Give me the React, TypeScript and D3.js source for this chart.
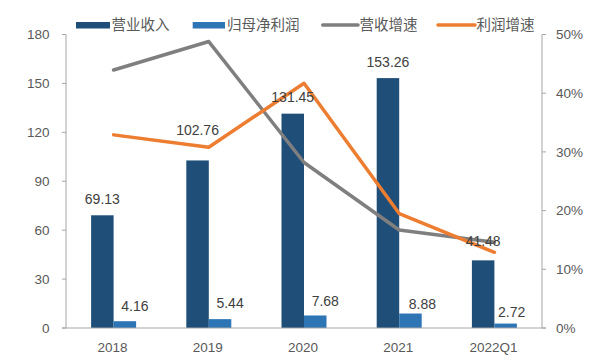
import React from "react";
import * as d3 from "d3";

const categories = ["2018", "2019", "2020", "2021", "2022Q1"];
const revenue = [69.13, 102.76, 131.45, 153.26, 41.48];
const netProfit = [4.16, 5.44, 7.68, 8.88, 2.72];
const revenueGrowth = [0.4395, 0.488, 0.282, 0.167, 0.146];
const profitGrowth = [0.329, 0.308, 0.417, 0.195, 0.129];
const leftTicks = [0, 30, 60, 90, 120, 150, 180];
const rightTicks = [0, 0.1, 0.2, 0.3, 0.4, 0.5];
const legendNames = ["营业收入", "归母净利润", "营收增速", "利润增速"];

// label nudges (px)
const revLabelGap = [16, 30, 17, 16, 19];
const profitLabelDx = [10, 10, 10, 12, 6];
const profitLabelGap = [15, 16, 14.5, 9, 11];

const C_DARK = "#1F4E79";
const C_LIGHT = "#2E75B6";
const C_GRAY = "#7F7F7F";
const C_ORANGE = "#ED7D31";
const C_AXIS = "#A6A6A6";
const C_TEXT = "#595959";
const C_LABEL = "#404040";

export default function App() {
  const W = 601, H = 360;
  const left = 66, right = 542, top = 34.5, bottom = 328;
  const x = d3.scaleBand<string>().domain(categories).range([left, right]).paddingInner(0).paddingOuter(0);
  const yL = d3.scaleLinear().domain([0, 180]).range([bottom, top]);
  const yR = d3.scaleLinear().domain([0, 0.5]).range([bottom, top]);
  const bw = 22.5;
  const cx = (c: string) => (x(c) as number) + x.bandwidth() / 2;

  const line = d3
    .line<number>()
    .x((_, i) => cx(categories[i]))
    .y((d) => yR(d));

  const numFont = "'Liberation Sans', Arial, sans-serif";
  const cjkFont = "'Noto Sans CJK SC', 'Noto Sans', sans-serif";

  const legendItems = [
    { name: legendNames[0], kind: "rect", color: C_DARK, x0: 76, x1: 110, tx: 111.5 },
    { name: legendNames[1], kind: "rect", color: C_LIGHT, x0: 192.7, x1: 225, tx: 227 },
    { name: legendNames[2], kind: "line", color: C_GRAY, x0: 322.7, x1: 358, tx: 359.5 },
    { name: legendNames[3], kind: "line", color: C_ORANGE, x0: 438, x1: 475, tx: 476.5 },
  ];
  const ly = 25;

  return (
    <svg width={W} height={H} style={{ position: "absolute", left: 0, top: 0, background: "#fff" }}>
      {/* bars */}
      {categories.map((c, i) => (
        <g key={c}>
          <rect x={cx(c) - bw} y={yL(revenue[i])} width={bw} height={bottom - yL(revenue[i])} fill={C_DARK} />
          <rect x={cx(c)} y={yL(netProfit[i])} width={bw} height={bottom - yL(netProfit[i])} fill={C_LIGHT} />
        </g>
      ))}
      {/* axes */}
      <line x1={left} x2={left} y1={top} y2={bottom} stroke={C_AXIS} strokeWidth={1} />
      <line x1={right} x2={right} y1={top} y2={bottom} stroke={C_AXIS} strokeWidth={1} />
      <line x1={left - 4} x2={right + 4} y1={bottom} y2={bottom} stroke={C_AXIS} strokeWidth={1} />
      {leftTicks.map((t) => (
        <g key={"l" + t}>
          <line x1={left - 4} x2={left} y1={yL(t)} y2={yL(t)} stroke={C_AXIS} />
          <text x={49.5} y={yL(t)} dy="0.35em" textAnchor="end" fontSize={13.5} fill={C_TEXT} fontFamily={numFont}>
            {t}
          </text>
        </g>
      ))}
      {rightTicks.map((t) => (
        <g key={"r" + t}>
          <line x1={right} x2={right + 4} y1={yR(t)} y2={yR(t)} stroke={C_AXIS} />
          <text x={556} y={yR(t)} dy="0.35em" textAnchor="start" fontSize={13.5} fill={C_TEXT} fontFamily={numFont}>
            {d3.format(".0%")(t)}
          </text>
        </g>
      ))}
      {categories.map((c) => (
        <text key={"x" + c} x={cx(c) - 1} y={347} dy="0.35em" textAnchor="middle" fontSize={13.5} fill={C_TEXT} fontFamily={numFont}>
          {c}
        </text>
      ))}
      {/* lines */}
      <path d={line(revenueGrowth) as string} fill="none" stroke={C_GRAY} strokeWidth={3.5} strokeLinejoin="round" strokeLinecap="round" />
      <path d={line(profitGrowth) as string} fill="none" stroke={C_ORANGE} strokeWidth={3.5} strokeLinejoin="round" strokeLinecap="round" />
      {/* labels */}
      {categories.map((c, i) => (
        <g key={"lab" + c}>
          <text x={cx(c) - bw / 2} y={yL(revenue[i]) - revLabelGap[i]} dy="0.35em" textAnchor="middle" fontSize={14} fill={C_LABEL} fontFamily={numFont}>
            {revenue[i].toFixed(2)}
          </text>
          <text x={cx(c) + bw / 2 + profitLabelDx[i]} y={yL(netProfit[i]) - profitLabelGap[i]} dy="0.35em" textAnchor="middle" fontSize={14} fill={C_LABEL} fontFamily={numFont}>
            {netProfit[i].toFixed(2)}
          </text>
        </g>
      ))}
      {/* legend */}
      {legendItems.map((it) => (
        <g key={it.name}>
          {it.kind === "rect" ? (
            <rect x={it.x0} y={ly - 3} width={it.x1 - it.x0} height={6.5} fill={it.color} />
          ) : (
            <line x1={it.x0} x2={it.x1} y1={ly} y2={ly} stroke={it.color} strokeWidth={3.5} strokeLinecap="round" />
          )}
          <text x={it.tx} y={ly} dy="0.35em" fontSize={14.5} fill={C_TEXT} fontFamily={cjkFont}>
            {it.name}
          </text>
        </g>
      ))}
    </svg>
  );
}
